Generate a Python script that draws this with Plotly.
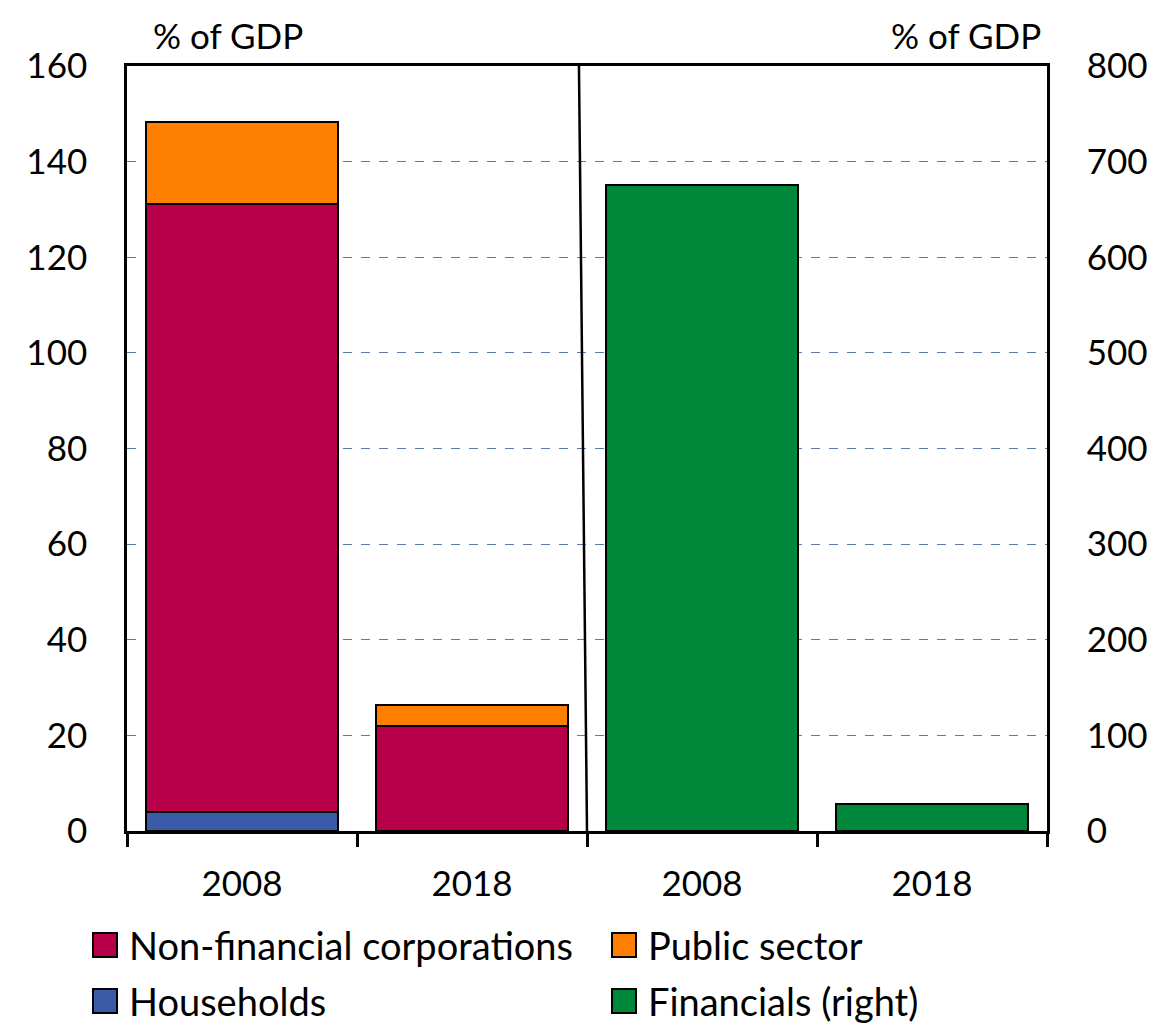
import plotly.graph_objects as go

# Category positions and tick labels
positions = [0, 1, 2, 3]
year_labels = ["2008", "2018", "2008", "2018"]

# External debt by sector, % of GDP (left axis)
households = [4.0, 0.0, None, None]
non_financial = [127.1, 22.0, None, None]
public_sector = [17.2, 4.4, None, None]
# Financial sector, % of GDP (right axis)
financials = [None, None, 675.6, 28.2]

series_names = ["Non-financial corporations", "Public sector", "Households", "Financials (right)"]
series_colors = ["#B8004A", "#FF8000", "#3A5BA8", "#00883A"]
color_of = dict(zip(series_names, series_colors))

FONT = "Lato"
FS = 35
LEG_FS = 38
W, H = 1155, 1024
L, R, T, B = 127, 108, 66, 193
PW, PH = W - L - R, H - T - B
BAR_W = 0.835

fig = go.Figure()
outline = dict(color="black", width=2)
for name, vals, axis in [
    ("Households", households, "y"),
    ("Non-financial corporations", non_financial, "y"),
    ("Public sector", public_sector, "y"),
    ("Financials (right)", financials, "y2"),
]:
    fig.add_trace(go.Bar(
        x=positions, y=vals, name=name, yaxis=axis, width=BAR_W,
        marker=dict(color=color_of[name], line=outline),
        showlegend=False,
    ))

fig.update_layout(
    width=W, height=H,
    margin=dict(l=L, r=R, t=T, b=B, pad=0),
    paper_bgcolor="white", plot_bgcolor="white",
    barmode="stack", bargap=0,
    font=dict(family=FONT, size=FS, color="black"),
    showlegend=False,
    xaxis=dict(
        range=[-0.5, 3.5], tickmode="array", tickvals=positions, ticktext=year_labels,
        ticks="", showline=True, linecolor="black", linewidth=2.5, mirror=True,
        showgrid=False, zeroline=False, ticklabelstandoff=20, automargin=False,
        minor=dict(tickmode="array", tickvals=[-0.5, 0.5, 1.5, 2.5, 3.5],
                   ticks="outside", ticklen=13, tickwidth=2.5, tickcolor="black",
                   showgrid=False),
    ),
    yaxis=dict(
        range=[0, 160], tickmode="array", tickvals=list(range(0, 161, 20)),
        ticks="", showline=True, linecolor="black", linewidth=2.5,
        showgrid=True, gridcolor="#5B7BA6", gridwidth=1, griddash="dash",
        zeroline=False, ticklabelstandoff=30, automargin=False,
    ),
    yaxis2=dict(
        range=[0, 800], tickmode="array", tickvals=list(range(0, 801, 100)),
        overlaying="y", side="right", anchor="x",
        ticks="", showline=True, linecolor="black", linewidth=2.5,
        showgrid=False, zeroline=False, ticklabelstandoff=30, automargin=False,
    ),
)

# Divider between the two panels
fig.add_shape(type="line", xref="x", yref="paper", x0=1.465, y0=1, x1=1.5, y1=0,
              line=dict(color="black", width=2.5))

# Unit labels above each axis
fig.add_annotation(text="% of GDP", xref="paper", yref="paper", x=0.11, y=1.0405,
                   xanchor="center", yanchor="middle", showarrow=False,
                   font=dict(family=FONT, size=FS))
fig.add_annotation(text="% of GDP", xref="paper", yref="paper", x=0.996, y=1.0405,
                   xanchor="right", yanchor="middle", showarrow=False,
                   font=dict(family=FONT, size=FS))

# Legend drawn as swatches plus labels, two columns by two rows
col_px = [93, 612]
row_px = [945, 1001]
SW = 24
for i, name in enumerate(series_names):
    cx = col_px[i % 2]
    cy = row_px[i // 2]
    x0 = (cx - L) / PW
    x1 = (cx + SW - L) / PW
    y0 = (H - B - (cy - SW / 2)) / PH
    y1 = (H - B - (cy + SW / 2)) / PH
    fig.add_shape(type="rect", xref="paper", yref="paper", x0=x0, x1=x1, y0=y0, y1=y1,
                  fillcolor=color_of[name], line=dict(color="black", width=2))
    fig.add_annotation(text=name, xref="paper", yref="paper",
                       x=(cx + SW + 10 - L) / PW, y=(H - B - cy) / PH,
                       xanchor="left", yanchor="middle", showarrow=False,
                       font=dict(family=FONT, size=LEG_FS))

fig.write_html("out.html")
